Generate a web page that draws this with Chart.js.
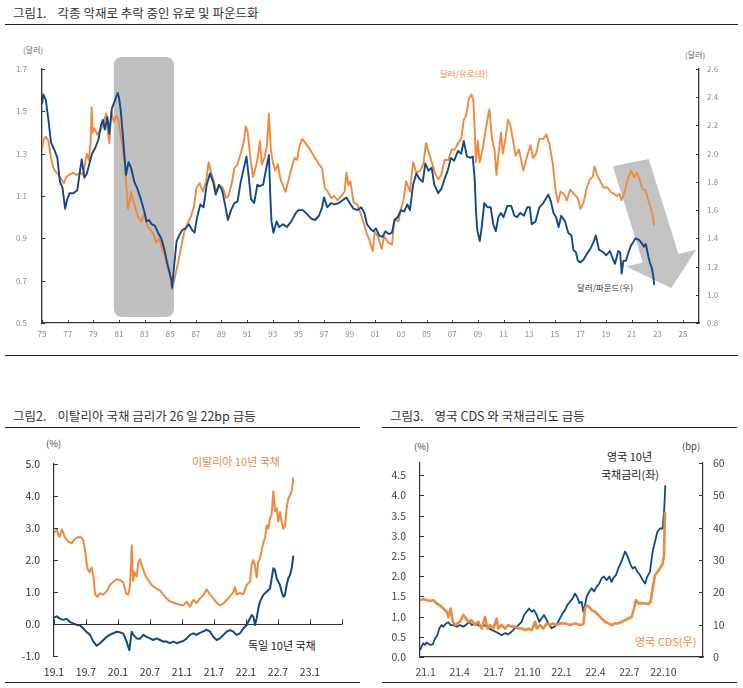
<!DOCTYPE html>
<html><head><meta charset="utf-8">
<script src="https://cdn.jsdelivr.net/npm/chart.js@4.4.0/dist/chart.umd.min.js"></script>
<style>
html,body{margin:0;padding:0;background:#fff;}
body{width:743px;height:688px;overflow:hidden;position:relative;font-family:"Noto Sans CJK KR","Noto Sans",sans-serif;}
.t{position:absolute;white-space:nowrap;line-height:1;}
.rule{position:absolute;height:0;border-top:1.4px solid #222;}
canvas{position:absolute;}
</style></head><body>

<div class="t" style="left:13px;top:7px;font-size:12.5px;color:#333;">그림1.&nbsp;&nbsp;&nbsp;&nbsp;각종 악재로 추락 중인 유로 및 파운드화</div>
<div class="rule" style="left:5px;top:24px;width:733px;"></div>
<div class="t" style="left:23px;top:46px;font-size:8px;color:#666;">(달러)</div>
<div class="t" style="left:685px;top:51px;font-size:8px;color:#666;">(달러)</div>
<div class="t" style="left:440px;top:69px;font-size:8.5px;color:#EE8A3E;">달러/유로(좌)</div>
<div class="t" style="left:577px;top:283px;font-size:8.5px;color:#333;">달러/파운드(우)</div>
<div class="rule" style="left:5px;top:355px;width:733px;"></div>

<div class="t" style="left:13px;top:410px;font-size:12.5px;color:#333;">그림2.&nbsp;&nbsp;&nbsp;&nbsp;이탈리아 국채 금리가 26 일 22bp 급등</div>
<div class="rule" style="left:5px;top:427px;width:355px;"></div>
<div class="t" style="left:46px;top:439px;font-size:9.5px;color:#444;">(%)</div>
<div class="t" style="left:192px;top:456px;font-size:11px;color:#EE8A3E;">이탈리아 10년 국채</div>
<div class="t" style="left:248px;top:640px;font-size:11px;color:#222;">독일 10년 국채</div>
<div class="rule" style="left:5px;top:682px;width:355px;"></div>

<div class="t" style="left:390px;top:410px;font-size:12.5px;color:#333;">그림3.&nbsp;&nbsp;&nbsp;&nbsp;영국 CDS 와 국채금리도 급등</div>
<div class="rule" style="left:382px;top:427px;width:355px;"></div>
<div class="t" style="left:414px;top:442px;font-size:9.5px;color:#444;">(%)</div>
<div class="t" style="left:682px;top:442px;font-size:9.5px;color:#444;">(bp)</div>
<div class="t" style="left:607px;top:451px;font-size:11px;color:#222;">영국 10년</div>
<div class="t" style="left:601px;top:469px;font-size:11px;color:#222;">국채금리(좌)</div>
<div class="t" style="left:635px;top:636px;font-size:11px;color:#EE8A3E;">영국 CDS(우)</div>
<div class="rule" style="left:382px;top:682px;width:355px;"></div>

<canvas id="c1" width="743" height="310" style="left:0;top:40px;"></canvas>
<canvas id="c2" width="370" height="252" style="left:0;top:430px;"></canvas>
<canvas id="c3" width="363" height="252" style="left:380px;top:430px;"></canvas>

<script>
// ---------- Chart 1 data ----------
const yearTicks1 = [1975,1977,1979,1981,1983,1985,1987,1989,1991,1993,1995,1997,1999,2001,2003,2005,2007,2009,2011,2013,2015,2017,2019,2021,2023,2025];
const yearTickLabels1 = ['75','77','79','81','83','85','87','89','91','93','95','97','99','01','03','05','07','09','11','13','15','17','19','21','23','25'];
const leftTicks1 = [0.5,0.7,0.9,1.1,1.3,1.5,1.7];
const rightTicks1 = [0.8,1.0,1.2,1.4,1.6,1.8,2.0,2.2,2.4,2.6];
// [year, USD per EUR]
const eurUsd = [
[1975.0,1.32],[1975.15,1.37],[1975.3,1.38],[1975.5,1.36],[1975.7,1.28],[1975.85,1.24],[1976.0,1.22],[1976.3,1.20],[1976.5,1.18],[1976.7,1.16],[1976.9,1.19],
[1977.1,1.20],[1977.4,1.21],[1977.7,1.20],[1978.0,1.21],[1978.2,1.20],[1978.35,1.25],[1978.5,1.30],[1978.65,1.27],[1978.8,1.36],[1978.87,1.52],[1978.95,1.40],
[1979.1,1.42],[1979.3,1.39],[1979.55,1.41],[1979.8,1.44],[1980.0,1.49],[1980.1,1.42],[1980.25,1.35],[1980.4,1.50],[1980.6,1.45],[1980.8,1.48],[1980.95,1.46],
[1981.1,1.40],[1981.3,1.33],[1981.45,1.25],[1981.6,1.13],[1981.7,1.04],[1981.8,1.06],[1981.95,1.12],[1982.1,1.08],[1982.3,1.04],[1982.5,1.00],[1982.75,0.98],
[1983.0,1.02],[1983.2,0.96],[1983.45,0.94],[1983.7,0.92],[1983.9,0.88],[1984.15,0.90],[1984.4,0.84],[1984.6,0.82],[1984.8,0.76],[1985.0,0.72],[1985.15,0.66],
[1985.3,0.70],[1985.45,0.74],[1985.6,0.78],[1985.85,0.86],[1986.1,0.93],[1986.35,0.97],[1986.6,1.00],[1986.85,1.05],[1987.05,1.14],[1987.3,1.16],[1987.55,1.12],
[1987.8,1.17],[1988.0,1.26],[1988.15,1.22],[1988.4,1.17],[1988.6,1.12],[1988.85,1.15],[1989.1,1.14],[1989.35,1.09],[1989.55,1.10],[1989.8,1.16],[1990.0,1.23],
[1990.25,1.25],[1990.5,1.30],[1990.75,1.36],[1990.9,1.43],[1991.05,1.40],[1991.25,1.28],[1991.45,1.19],[1991.6,1.22],[1991.8,1.27],[1992.0,1.36],[1992.15,1.25],
[1992.35,1.28],[1992.55,1.34],[1992.7,1.49],[1992.85,1.32],[1993.0,1.26],[1993.2,1.22],[1993.4,1.25],[1993.6,1.18],[1993.85,1.14],[1994.0,1.12],[1994.25,1.18],
[1994.5,1.24],[1994.7,1.28],[1994.9,1.27],[1995.1,1.34],[1995.3,1.37],[1995.55,1.35],[1995.8,1.33],[1996.0,1.31],[1996.3,1.28],[1996.6,1.25],[1996.85,1.23],
[1997.05,1.14],[1997.3,1.12],[1997.55,1.09],[1997.8,1.10],[1998.05,1.08],[1998.35,1.10],[1998.6,1.12],[1998.75,1.21],[1998.9,1.15],[1999.05,1.17],[1999.3,1.07],
[1999.6,1.06],[1999.9,1.01],[2000.1,0.97],[2000.35,0.92],[2000.55,0.89],[2000.8,0.84],[2000.95,0.93],[2001.2,0.91],[2001.5,0.85],[2001.7,0.91],[2002.0,0.88],
[2002.3,0.87],[2002.5,0.99],[2002.8,0.98],[2003.0,1.04],[2003.2,1.08],[2003.4,1.17],[2003.7,1.12],[2003.95,1.26],[2004.2,1.21],[2004.5,1.22],[2004.75,1.25],
[2004.95,1.35],[2005.15,1.31],[2005.4,1.26],[2005.65,1.21],[2005.9,1.18],[2006.15,1.20],[2006.4,1.27],[2006.7,1.27],[2006.95,1.32],[2007.2,1.32],[2007.45,1.35],
[2007.7,1.37],[2007.9,1.46],[2008.1,1.48],[2008.3,1.56],[2008.5,1.58],[2008.65,1.55],[2008.75,1.42],[2008.85,1.26],[2009.0,1.36],[2009.15,1.26],[2009.4,1.33],
[2009.6,1.41],[2009.8,1.48],[2009.9,1.51],[2010.1,1.37],[2010.3,1.32],[2010.45,1.20],[2010.6,1.29],[2010.8,1.40],[2010.95,1.30],[2011.15,1.37],[2011.35,1.46],
[2011.55,1.43],[2011.75,1.36],[2011.95,1.29],[2012.2,1.32],[2012.55,1.22],[2012.85,1.29],[2013.1,1.34],[2013.3,1.28],[2013.55,1.30],[2013.8,1.37],[2014.1,1.37],
[2014.35,1.39],[2014.6,1.34],[2014.85,1.25],[2015.05,1.13],[2015.25,1.07],[2015.45,1.12],[2015.7,1.11],[2015.95,1.08],[2016.2,1.13],[2016.5,1.11],[2016.8,1.09],
[2017.0,1.04],[2017.25,1.07],[2017.5,1.14],[2017.75,1.18],[2017.95,1.19],[2018.1,1.24],[2018.3,1.20],[2018.55,1.17],[2018.8,1.14],[2019.1,1.14],[2019.35,1.12],
[2019.6,1.11],[2019.85,1.10],[2020.05,1.11],[2020.2,1.08],[2020.45,1.12],[2020.7,1.18],[2020.95,1.22],[2021.2,1.19],[2021.4,1.21],[2021.6,1.18],[2021.85,1.13],
[2022.05,1.13],[2022.25,1.09],[2022.45,1.05],[2022.6,1.02],[2022.75,0.96]
];
// [year, USD per GBP]
const gbpUsd = [
[1975.0,2.35],[1975.1,2.42],[1975.3,2.38],[1975.5,2.24],[1975.7,2.08],[1975.95,2.03],[1976.2,1.97],[1976.4,1.80],[1976.6,1.76],[1976.8,1.61],[1976.95,1.67],
[1977.15,1.72],[1977.45,1.72],[1977.75,1.74],[1978.0,1.90],[1978.1,1.96],[1978.3,1.83],[1978.5,1.86],[1978.7,1.93],[1978.9,2.00],[1979.15,2.04],[1979.4,2.10],
[1979.6,2.20],[1979.75,2.24],[1979.9,2.17],[1980.1,2.26],[1980.25,2.14],[1980.45,2.32],[1980.7,2.38],[1980.9,2.43],[1981.0,2.40],[1981.15,2.30],[1981.35,2.08],
[1981.55,1.85],[1981.75,1.94],[1981.95,1.90],[1982.2,1.80],[1982.45,1.75],[1982.7,1.68],[1982.95,1.60],[1983.15,1.52],[1983.35,1.53],[1983.55,1.50],[1983.8,1.49],
[1984.05,1.44],[1984.3,1.40],[1984.55,1.32],[1984.75,1.23],[1984.95,1.16],[1985.1,1.10],[1985.15,1.05],[1985.3,1.20],[1985.5,1.38],[1985.7,1.42],[1985.95,1.46],
[1986.2,1.47],[1986.45,1.50],[1986.7,1.46],[1986.9,1.44],[1987.1,1.55],[1987.35,1.64],[1987.6,1.62],[1987.85,1.78],[1988.1,1.86],[1988.35,1.80],[1988.55,1.71],
[1988.8,1.78],[1989.05,1.74],[1989.3,1.63],[1989.5,1.53],[1989.75,1.60],[1990.0,1.65],[1990.25,1.66],[1990.5,1.80],[1990.7,1.88],[1990.95,1.98],[1991.1,1.86],
[1991.3,1.68],[1991.55,1.65],[1991.8,1.78],[1992.0,1.77],[1992.25,1.78],[1992.5,1.90],[1992.7,1.99],[1992.8,1.72],[1992.9,1.52],[1993.05,1.44],[1993.3,1.52],
[1993.5,1.48],[1993.8,1.50],[1994.1,1.48],[1994.45,1.52],[1994.8,1.58],[1995.0,1.60],[1995.35,1.60],[1995.7,1.57],[1996.0,1.54],[1996.3,1.53],[1996.6,1.56],
[1996.85,1.62],[1997.0,1.69],[1997.25,1.62],[1997.55,1.65],[1997.85,1.64],[1998.15,1.65],[1998.45,1.67],[1998.75,1.69],[1999.0,1.65],[1999.3,1.61],[1999.6,1.60],
[1999.9,1.62],[2000.15,1.58],[2000.35,1.50],[2000.6,1.47],[2000.85,1.45],[2001.05,1.47],[2001.3,1.42],[2001.55,1.41],[2001.8,1.45],[2002.05,1.43],[2002.3,1.44],
[2002.5,1.53],[2002.75,1.55],[2003.0,1.60],[2003.25,1.59],[2003.5,1.64],[2003.7,1.60],[2003.95,1.78],[2004.2,1.86],[2004.45,1.82],[2004.7,1.80],[2004.9,1.93],
[2005.15,1.88],[2005.4,1.90],[2005.6,1.78],[2005.9,1.72],[2006.15,1.75],[2006.4,1.82],[2006.65,1.88],[2006.9,1.97],[2007.15,1.95],[2007.45,2.02],[2007.7,2.00],
[2007.9,2.09],[2008.15,1.98],[2008.4,1.97],[2008.6,1.98],[2008.75,1.82],[2008.85,1.60],[2008.95,1.46],[2009.15,1.38],[2009.3,1.48],[2009.5,1.65],[2009.75,1.62],
[2010.0,1.62],[2010.2,1.50],[2010.4,1.45],[2010.6,1.55],[2010.8,1.58],[2011.0,1.55],[2011.3,1.63],[2011.6,1.63],[2011.85,1.56],[2012.05,1.55],[2012.3,1.58],
[2012.6,1.56],[2012.85,1.62],[2013.05,1.62],[2013.2,1.50],[2013.5,1.52],[2013.8,1.62],[2014.1,1.65],[2014.5,1.71],[2014.7,1.66],[2014.9,1.58],[2015.1,1.55],
[2015.3,1.48],[2015.5,1.56],[2015.8,1.52],[2016.05,1.44],[2016.3,1.42],[2016.45,1.32],[2016.65,1.30],[2016.8,1.24],[2017.0,1.23],[2017.25,1.25],[2017.5,1.29],
[2017.8,1.33],[2018.05,1.38],[2018.2,1.42],[2018.45,1.32],[2018.8,1.30],[2019.0,1.28],[2019.3,1.31],[2019.55,1.25],[2019.7,1.22],[2019.95,1.31],[2020.1,1.30],
[2020.22,1.15],[2020.35,1.24],[2020.55,1.24],[2020.75,1.30],[2020.95,1.35],[2021.1,1.37],[2021.3,1.40],[2021.55,1.39],[2021.75,1.37],[2021.95,1.34],[2022.1,1.36],
[2022.3,1.27],[2022.45,1.22],[2022.6,1.18],[2022.7,1.12],[2022.75,1.07]
];
// highlighted period (years) and its vertical extent on the left scale
const highlightPeriod = [1980.6, 1985.3];
const highlightRange = [0.528, 1.757];
// downward arrow outline, [year, left-scale value]
const arrowPath = [[2019.53,1.240],[2022.33,1.275],[2024.65,0.826],[2026.03,0.846],[2024.08,0.665],[2020.57,0.767],[2021.87,0.786]];

// ---------- Chart 2 data ----------
const halfYearTicks2 = [2019,2019.5,2020,2020.5,2021,2021.5,2022,2022.5,2023];
const halfYearLabels2 = ['19.1','19.7','20.1','20.7','21.1','21.7','22.1','22.7','23.1'];
const italy10y = [
[2019.000,2.85],[2019.042,2.95],[2019.083,2.72],[2019.125,2.95],[2019.172,2.70],[2019.224,2.57],[2019.276,2.52],[2019.328,2.66],[2019.380,2.72],[2019.432,2.70],
[2019.458,2.60],[2019.484,2.30],[2019.521,1.75],[2019.552,1.62],[2019.589,1.76],[2019.615,1.48],[2019.641,0.95],[2019.677,0.85],[2019.719,0.96],[2019.771,0.92],
[2019.823,1.02],[2019.875,1.22],[2019.927,1.32],[2019.979,1.40],[2020.031,1.37],[2020.083,1.30],[2020.125,0.96],[2020.161,0.92],[2020.188,1.20],[2020.214,2.45],
[2020.234,1.35],[2020.255,1.62],[2020.292,1.48],[2020.318,1.93],[2020.344,2.02],[2020.375,1.82],[2020.422,1.55],[2020.474,1.37],[2020.526,1.22],[2020.604,1.10],
[2020.656,1.05],[2020.708,0.92],[2020.760,0.80],[2020.813,0.70],[2020.891,0.65],[2020.969,0.60],[2021.021,0.58],[2021.073,0.70],[2021.125,0.54],[2021.177,0.75],
[2021.229,0.66],[2021.281,0.80],[2021.333,0.90],[2021.385,1.08],[2021.438,0.92],[2021.490,0.80],[2021.542,0.66],[2021.594,0.58],[2021.646,0.64],[2021.698,0.75],
[2021.750,0.86],[2021.802,1.00],[2021.828,1.15],[2021.854,0.92],[2021.906,0.97],[2021.958,0.93],[2022.010,1.22],[2022.063,1.32],[2022.089,1.85],[2022.115,2.00],
[2022.141,1.82],[2022.167,1.45],[2022.193,1.95],[2022.219,2.05],[2022.271,2.55],[2022.297,2.68],[2022.323,3.08],[2022.349,2.98],[2022.375,3.30],[2022.401,3.42],
[2022.427,4.15],[2022.453,3.52],[2022.479,3.62],[2022.505,3.20],[2022.531,3.50],[2022.557,3.18],[2022.583,2.98],[2022.609,3.05],[2022.635,3.62],[2022.661,3.92],
[2022.688,4.03],[2022.714,4.15],[2022.740,4.58]
];
const germany10y = [
[2019.000,0.20],[2019.042,0.24],[2019.094,0.17],[2019.146,0.13],[2019.198,0.16],[2019.250,0.06],[2019.302,0.02],[2019.354,-0.03],[2019.406,-0.04],[2019.458,-0.14],
[2019.510,-0.25],[2019.563,-0.34],[2019.615,-0.55],[2019.667,-0.68],[2019.719,-0.60],[2019.771,-0.50],[2019.823,-0.40],[2019.875,-0.33],[2019.927,-0.29],[2019.979,-0.24],
[2020.031,-0.26],[2020.083,-0.30],[2020.135,-0.55],[2020.177,-0.82],[2020.214,-0.24],[2020.240,-0.34],[2020.292,-0.45],[2020.344,-0.46],[2020.396,-0.34],[2020.448,-0.40],
[2020.500,-0.45],[2020.552,-0.50],[2020.604,-0.45],[2020.656,-0.50],[2020.708,-0.55],[2020.760,-0.55],[2020.813,-0.60],[2020.865,-0.55],[2020.917,-0.60],[2020.969,-0.56],
[2021.021,-0.53],[2021.073,-0.45],[2021.125,-0.34],[2021.177,-0.29],[2021.229,-0.34],[2021.281,-0.28],[2021.333,-0.23],[2021.385,-0.18],[2021.438,-0.24],[2021.490,-0.40],
[2021.542,-0.50],[2021.594,-0.45],[2021.646,-0.34],[2021.698,-0.24],[2021.750,-0.19],[2021.802,-0.24],[2021.854,-0.34],[2021.906,-0.29],[2021.958,-0.14],[2022.010,-0.03],
[2022.063,0.18],[2022.089,0.28],[2022.115,0.23],[2022.141,-0.03],[2022.167,0.18],[2022.193,0.49],[2022.219,0.70],[2022.271,0.91],[2022.323,1.01],[2022.375,1.11],
[2022.427,1.74],[2022.453,1.69],[2022.479,1.43],[2022.505,1.32],[2022.531,1.22],[2022.557,1.01],[2022.583,0.85],[2022.609,0.91],[2022.635,1.22],[2022.661,1.43],
[2022.688,1.53],[2022.714,1.74],[2022.740,2.14]
];

// ---------- Chart 3 data (x = month index, 0 = 2021 Jan) ----------
const monthTicks3 = [0,3,6,9,12,15,18,21];
const monthLabels3 = ['21.1','21.4','21.7','21.10','22.1','22.4','22.7','22.10'];
const leftTicks3 = [0,0.5,1.0,1.5,2.0,2.5,3.0,3.5,4.0,4.5];
const uk10y = [
[-0.50,0.17],[-0.35,0.26],[-0.21,0.34],[-0.06,0.30],[0.09,0.36],[0.38,0.30],[0.62,0.31],[0.83,0.46],[1.03,0.54],[1.21,0.71],[1.41,0.79],[1.56,0.75],[1.80,0.83],
[2.00,0.86],[2.21,0.79],[2.44,0.79],[2.74,0.75],[3.03,0.79],[3.33,0.75],[3.62,0.81],[3.86,0.87],[4.06,0.79],[4.36,0.83],[4.65,0.79],[4.95,0.75],[5.24,0.79],
[5.54,0.71],[5.83,0.67],[6.13,0.63],[6.42,0.59],[6.71,0.54],[7.01,0.59],[7.30,0.56],[7.60,0.63],[7.89,0.71],[8.19,0.79],[8.48,0.87],[8.69,1.04],[8.92,1.12],
[9.13,1.20],[9.36,1.12],[9.57,1.16],[9.81,1.04],[10.04,0.87],[10.25,0.96],[10.45,1.04],[10.69,0.92],[10.93,0.79],[11.13,0.71],[11.34,0.75],[11.57,0.79],[11.87,0.96],
[12.10,1.08],[12.31,1.16],[12.52,1.29],[12.75,1.37],[12.99,1.45],[13.19,1.57],[13.40,1.48],[13.58,1.33],[13.78,1.37],[13.93,1.12],[14.08,1.29],[14.22,1.49],[14.46,1.62],
[14.66,1.70],[14.87,1.62],[15.11,1.74],[15.34,1.82],[15.55,1.95],[15.75,1.99],[15.99,1.90],[16.23,1.99],[16.43,1.86],[16.58,1.95],[16.81,2.03],[17.02,2.19],[17.23,2.32],
[17.40,2.44],[17.61,2.61],[17.76,2.54],[17.90,2.44],[18.11,2.28],[18.29,2.19],[18.49,2.23],[18.70,2.11],[18.93,2.03],[19.17,1.90],[19.38,1.82],[19.58,1.99],[19.82,2.11],
[20.05,2.61],[20.26,2.85],[20.47,3.10],[20.70,3.18],[20.94,3.18],[21.08,3.68],[21.17,4.25]
];
const ukCds = [
[-0.50,17.6],[-0.21,17.9],[0.09,17.6],[0.38,17.3],[0.68,17.6],[0.97,16.6],[1.27,16.0],[1.56,15.0],[1.86,14.0],[2.00,12.4],[2.21,15.0],[2.39,10.9],[2.59,9.9],
[2.80,10.4],[3.03,10.9],[3.33,13.0],[3.56,11.9],[3.77,10.9],[4.06,11.4],[4.36,9.9],[4.65,10.9],[4.95,8.8],[5.24,12.4],[5.45,8.8],[5.68,9.9],[5.98,8.8],[6.27,11.9],
[6.42,8.8],[6.71,9.9],[7.01,8.8],[7.30,9.9],[7.60,9.4],[7.89,9.4],[8.19,8.8],[8.48,8.8],[8.78,8.3],[9.07,8.8],[9.36,8.3],[9.66,10.9],[9.81,8.8],[10.10,9.9],
[10.40,8.8],[10.69,10.4],[10.98,9.9],[11.28,10.4],[11.57,9.9],[11.87,10.4],[12.31,10.4],[12.75,9.9],[13.19,10.4],[13.63,9.9],[13.93,10.1],[14.08,15.0],[14.22,16.0],
[14.46,15.5],[14.66,14.5],[14.96,14.0],[15.25,13.0],[15.55,11.9],[15.84,10.9],[16.14,10.4],[16.43,9.9],[16.73,10.4],[17.02,10.4],[17.32,10.9],[17.61,11.4],[17.90,11.9],
[18.20,12.4],[18.40,15.0],[18.58,17.6],[18.79,16.6],[19.08,16.6],[19.38,16.6],[19.67,16.3],[19.88,17.1],[20.05,21.2],[20.26,25.3],[20.47,26.3],[20.70,27.4],[20.94,28.9],
[21.05,31.5],[21.14,44.9]
];

// ---------- styles ----------
const ORANGE = '#EE8A3E';
const BLUE = '#10498A';
const FONT = '"Noto Sans CJK KR","Noto Sans",sans-serif';
const pts = a => a.map(([x,y]) => ({x, y}));
const setTicks = arr => s => { s.ticks = arr.map(v => ({value: v})); };

// inward tick marks on listed axes
const innerTicks = {
  id: 'innerTicks',
  afterDraw(chart, args, opts) {
    const ctx = chart.ctx;
    ctx.save();
    ctx.strokeStyle = opts.color || '#555';
    ctx.lineWidth = 1;
    (opts.axes || []).forEach(id => {
      const s = chart.scales[id];
      const len = opts.len || 4;
      s.ticks.forEach(t => {
        const p = Math.round(s.getPixelForValue(t.value)) + 0.5;
        ctx.beginPath();
        if (s.isHorizontal()) {
          ctx.moveTo(p, s.top); ctx.lineTo(p, s.top - len);
        } else if (s.position === 'left') {
          ctx.moveTo(s.right, p); ctx.lineTo(s.right + len, p);
        } else {
          ctx.moveTo(s.left, p); ctx.lineTo(s.left - len, p);
        }
        ctx.stroke();
      });
    });
    ctx.restore();
  }
};

// Chart 1 shading box and arrow (beneath the lines)
const decor1 = {
  id: 'decor1',
  beforeDatasetsDraw(chart) {
    const {ctx, scales: {x, yL}} = chart;
    ctx.save();
    const x0 = x.getPixelForValue(highlightPeriod[0]), x1 = x.getPixelForValue(highlightPeriod[1]);
    const y0 = yL.getPixelForValue(highlightRange[1]), y1 = yL.getPixelForValue(highlightRange[0]);
    ctx.fillStyle = '#c0c0c0';
    ctx.beginPath();
    ctx.roundRect(x0, y0, x1 - x0, y1 - y0, 8);
    ctx.fill();
    ctx.fillStyle = '#c3c3c3';
    ctx.beginPath();
    arrowPath.forEach(([a, b], i) => {
      const px = x.getPixelForValue(a), py = yL.getPixelForValue(b);
      if (i === 0) ctx.moveTo(px, py); else ctx.lineTo(px, py);
    });
    ctx.closePath();
    ctx.fill();
    ctx.restore();
  }
};

// Chart 2 zero line with upward ticks
const zeroAxis2 = {
  id: 'zeroAxis2',
  afterDraw(chart) {
    const {ctx, scales: {x, y}, chartArea} = chart;
    const yz = Math.round(y.getPixelForValue(0)) + 0.5;
    ctx.save();
    ctx.strokeStyle = '#333';
    ctx.lineWidth = 1.2;
    ctx.beginPath(); ctx.moveTo(chartArea.left, yz); ctx.lineTo(chartArea.right, yz); ctx.stroke();
    ctx.lineWidth = 1;
    halfYearTicks2.concat([2023.5]).forEach(v => {
      const p = Math.round(x.getPixelForValue(v)) + 0.5;
      ctx.beginPath(); ctx.moveTo(p, yz); ctx.lineTo(p, yz - 5); ctx.stroke();
    });
    ctx.restore();
  }
};

const common = {
  responsive: false, animation: false,
  plugins: { legend: {display: false}, tooltip: {enabled: false} },
  elements: { point: {radius: 0}, line: {tension: 0, borderJoinStyle: 'round'} }
};

// ---------- Chart 1 ----------
new Chart(document.getElementById('c1'), {
  type: 'line',
  data: { datasets: [
    {data: pts(gbpUsd), borderColor: BLUE, borderWidth: 1.9, yAxisID: 'yR'},
    {data: pts(eurUsd), borderColor: ORANGE, borderWidth: 1.9, yAxisID: 'yL'}
  ]},
  options: Object.assign({}, common, {
    layout: {padding: {top: 29, left: 0, right: 0, bottom: 0}},
    plugins: Object.assign({}, common.plugins, {innerTicks: {axes: ['x','yL','yR'], len: 3, color: '#333'}}),
    scales: {
      x: {type: 'linear', min: 1975, max: 2026.25, afterBuildTicks: setTicks(yearTicks1),
          afterFit: s => { s.height = 27; },
          ticks: {autoSkip: false, maxRotation: 0, padding: 6, color: '#8a8a8a', font: {family: FONT, size: 8},
                  callback: (v, i) => yearTickLabels1[i]},
          grid: {display: true, drawOnChartArea: false, drawTicks: false}, border: {color: '#333', width: 1.3}},
      yL: {position: 'left', min: 0.5, max: 1.7, afterBuildTicks: setTicks(leftTicks1),
          afterFit: s => { s.width = 42; },
          ticks: {padding: 15, color: '#8a8a8a', font: {family: FONT, size: 8}, callback: v => v.toFixed(1)},
          grid: {display: true, drawOnChartArea: false, drawTicks: false}, border: {color: '#333', width: 1.3}},
      yR: {position: 'right', min: 0.8, max: 2.6, afterBuildTicks: setTicks(rightTicks1),
          afterFit: s => { s.width = 44; },
          ticks: {padding: 8, color: '#8a8a8a', font: {family: FONT, size: 8}, callback: v => v.toFixed(1)},
          grid: {display: true, drawOnChartArea: false, drawTicks: false}, border: {color: '#333', width: 1.3}}
    }
  }),
  plugins: [decor1, innerTicks]
});

// ---------- Chart 2 ----------
new Chart(document.getElementById('c2'), {
  type: 'line',
  data: { datasets: [
    {data: pts(germany10y), borderColor: BLUE, borderWidth: 2},
    {data: pts(italy10y), borderColor: ORANGE, borderWidth: 2}
  ]},
  options: Object.assign({}, common, {
    layout: {padding: {top: 34, left: 0, right: 28, bottom: 0}},
    plugins: Object.assign({}, common.plugins, {innerTicks: {axes: ['y'], len: 4, color: '#333'}}),
    scales: {
      x: {type: 'linear', min: 2019, max: 2023.5, afterBuildTicks: setTicks(halfYearTicks2),
          afterFit: s => { s.height = 26; },
          ticks: {autoSkip: false, maxRotation: 0, padding: 10, color: '#333', font: {family: FONT, size: 10.5},
                  callback: (v, i) => halfYearLabels2[i]},
          grid: {display: false, drawTicks: false}, border: {display: false}},
      y: {position: 'left', min: -1, max: 5, ticks: {stepSize: 1, padding: 14, color: '#333', font: {family: FONT, size: 10.5}, callback: v => v.toFixed(1)},
          afterFit: s => { s.width = 54; },
          grid: {display: true, drawOnChartArea: false, drawTicks: false}, border: {color: '#333', width: 1.2}}
    }
  }),
  plugins: [zeroAxis2, innerTicks]
});

// ---------- Chart 3 ----------
new Chart(document.getElementById('c3'), {
  type: 'line',
  data: { datasets: [
    {data: pts(ukCds), borderColor: ORANGE, borderWidth: 2.6, yAxisID: 'yR'},
    {data: pts(uk10y), borderColor: BLUE, borderWidth: 1.8, yAxisID: 'yL'}
  ]},
  options: Object.assign({}, common, {
    layout: {padding: {top: 33, left: 0, right: 0, bottom: 0}},
    plugins: Object.assign({}, common.plugins, {innerTicks: {axes: ['yL','yR'], len: 4, color: '#333'}}),
    scales: {
      x: {type: 'linear', min: -0.5, max: 24.5, afterBuildTicks: setTicks(monthTicks3),
          afterFit: s => { s.height = 25; },
          ticks: {autoSkip: false, maxRotation: 0, padding: 9, color: '#444', font: {family: FONT, size: 10.5},
                  callback: (v, i) => monthLabels3[i]},
          grid: {display: true, drawOnChartArea: false, drawTicks: false}, border: {color: '#333', width: 1.2}},
      yL: {position: 'left', min: 0, max: 4.8, afterBuildTicks: setTicks(leftTicks3),
          afterFit: s => { s.width = 40; },
          ticks: {padding: 14, color: '#444', font: {family: FONT, size: 10.5}, callback: v => v.toFixed(1)},
          grid: {display: true, drawOnChartArea: false, drawTicks: false}, border: {color: '#333', width: 1.2}},
      yR: {position: 'right', min: 0, max: 60, ticks: {stepSize: 10, padding: 10, color: '#444', font: {family: FONT, size: 10.5}},
          afterFit: s => { s.width = 40; },
          grid: {display: true, drawOnChartArea: false, drawTicks: false}, border: {color: '#333', width: 1.2}}
    }
  }),
  plugins: [innerTicks]
});
</script>
</body></html>
